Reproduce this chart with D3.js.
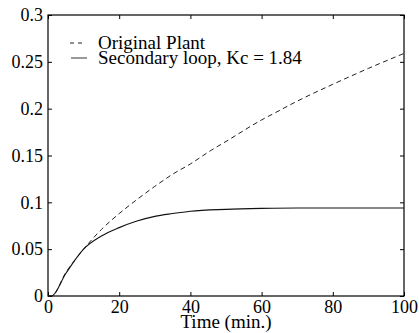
<!DOCTYPE html>
<html>
<head>
<meta charset="utf-8">
<script src="https://cdn.jsdelivr.net/npm/d3@7/dist/d3.min.js"></script>
<style>
  html, body { margin: 0; padding: 0; background: #fff; }
  svg { display: block; }
</style>
</head>
<body>
<svg id="chart" width="419" height="333"></svg>
<script>
// Step responses, time in minutes
const timeOriginal = [0, 1, 5, 10, 15, 20, 25, 30, 35, 40, 46, 50, 60, 64, 70, 80, 90, 100];
const originalPlant = [0, 0, 0.025, 0.050, 0.071, 0.088, 0.103, 0.117, 0.130, 0.141, 0.156, 0.165, 0.188, 0.196, 0.208, 0.226, 0.243, 0.259];

const timeSecondary = [0, 1, 5, 10, 15, 20, 25, 30, 35, 40, 50, 60, 70, 80, 90, 100];
const secondaryLoop = [0, 0, 0.024, 0.050, 0.064, 0.073, 0.080, 0.085, 0.088, 0.0905, 0.0925, 0.0935, 0.094, 0.094, 0.094, 0.094];

const xTicks = [0, 20, 40, 60, 80, 100];
const yTicks = [0, 0.05, 0.1, 0.15, 0.2, 0.25, 0.3];
const yTickLabels = ["0", "0.05", "0.1", "0.15", "0.2", "0.25", "0.3"];
const legendLabels = ["Original Plant", "Secondary loop, Kc = 1.84"];
const xTitle = "Time (min.)";

const FONT = "'Liberation Serif', 'Times New Roman', Times, serif";
const svg = d3.select("#chart");
const m = { left: 48, right: 404, top: 15, bottom: 296 };

const x = d3.scaleLinear().domain([0, 100]).range([m.left, m.right]);
const y = d3.scaleLinear().domain([0, 0.3]).range([m.bottom, m.top]);

const tickLen = 4;
const tickFont = 18;
const labelFont = 19;

// Frame
svg.append("rect")
  .attr("x", m.left).attr("y", m.top)
  .attr("width", m.right - m.left).attr("height", m.bottom - m.top)
  .attr("fill", "none").attr("stroke", "#000").attr("stroke-width", 1.2);

// Axes with inward ticks on all four sides
const xAxis = d3.axisBottom(x).tickValues(xTicks).tickSizeInner(-tickLen).tickSizeOuter(0).tickFormat(d3.format("d"));
const gx = svg.append("g").attr("transform", `translate(0,${m.bottom})`).call(xAxis);
gx.select(".domain").remove();
gx.selectAll("text").attr("y", 17).attr("dy", 0)
  .style("font-size", tickFont + "px").style("font-family", FONT).attr("fill", "#000");

const xTop = d3.axisTop(x).tickValues(xTicks).tickSizeInner(-tickLen).tickSizeOuter(0).tickFormat("");
const gxt = svg.append("g").attr("transform", `translate(0,${m.top})`).call(xTop);
gxt.select(".domain").remove();

const yAxis = d3.axisLeft(y).tickValues(yTicks).tickSizeInner(-tickLen).tickSizeOuter(0).tickPadding(5)
  .tickFormat((d, i) => yTickLabels[i]);
const gy = svg.append("g").attr("transform", `translate(${m.left},0)`).call(yAxis);
gy.select(".domain").remove();
gy.selectAll("text").style("font-size", tickFont + "px").style("font-family", FONT).attr("fill", "#000");

const yRight = d3.axisRight(y).tickValues(yTicks).tickSizeInner(-tickLen).tickSizeOuter(0).tickFormat("");
const gyr = svg.append("g").attr("transform", `translate(${m.right},0)`).call(yRight);
gyr.select(".domain").remove();

svg.selectAll(".tick line").attr("stroke", "#000");

// X title
svg.append("text")
  .attr("x", (m.left + m.right) / 2).attr("y", 328)
  .attr("text-anchor", "middle")
  .style("font-size", labelFont + "px").style("font-family", FONT)
  .text(xTitle);

// Curves
const line = d3.line().curve(d3.curveMonotoneX);

svg.append("path")
  .attr("d", line(timeOriginal.map((t, i) => [x(t), y(originalPlant[i])])))
  .attr("fill", "none").attr("stroke", "#222").attr("stroke-width", 1)
  .attr("stroke-dasharray", "5,3.5");

svg.append("path")
  .attr("d", line(timeSecondary.map((t, i) => [x(t), y(secondaryLoop[i])])))
  .attr("fill", "none").attr("stroke", "#111").attr("stroke-width", 1.1);

// Legend
const legend = svg.append("g");
legend.append("line").attr("x1", 70).attr("x2", 85).attr("y1", 43).attr("y2", 43)
  .attr("stroke", "#222").attr("stroke-width", 1).attr("stroke-dasharray", "4,4");
legend.append("line").attr("x1", 71).attr("x2", 87).attr("y1", 58).attr("y2", 58)
  .attr("stroke", "#333").attr("stroke-width", 1);
legend.selectAll("text.lbl").data(legendLabels).join("text")
  .attr("class", "lbl")
  .attr("x", 98).attr("y", (d, i) => 49 + i * 15)
  .style("font-size", labelFont + "px").style("font-family", FONT)
  .text(d => d);
</script>
</body>
</html>
